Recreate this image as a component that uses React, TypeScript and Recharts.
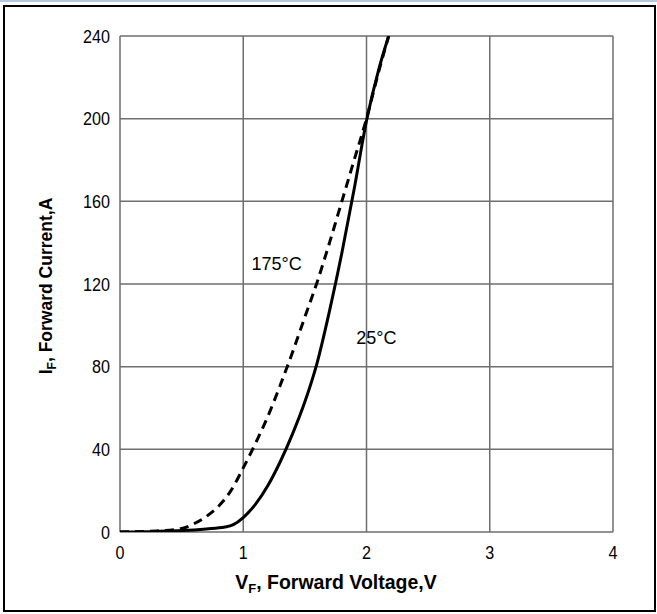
import { CartesianGrid, LineChart, Line, ReferenceDot, XAxis, YAxis } from 'recharts';

const X_TICKS = [0, 1, 2, 3, 4];
const Y_TICKS = [0, 40, 80, 120, 160, 200, 240];

// 25°C, solid
const curve25 = [
  { v: 0, i: 0 },
  { v: 0.3, i: 0.3 },
  { v: 0.5, i: 0.7 },
  { v: 0.7, i: 1.5 },
  { v: 0.85, i: 2.4 },
  { v: 0.92, i: 3.6 },
  { v: 1.0, i: 7 },
  { v: 1.1, i: 13.5 },
  { v: 1.2, i: 22.5 },
  { v: 1.3, i: 34 },
  { v: 1.4, i: 47.5 },
  { v: 1.5, i: 63 },
  { v: 1.6, i: 82 },
  { v: 1.7, i: 107 },
  { v: 1.8, i: 135 },
  { v: 1.9, i: 166 },
  { v: 2.0, i: 199 },
  { v: 2.1, i: 224 },
  { v: 2.18, i: 240 },
];

// 175°C, dashed
const curve175 = [
  { v: 0, i: 0 },
  { v: 0.3, i: 0.5 },
  { v: 0.5, i: 1.7 },
  { v: 0.6, i: 4 },
  { v: 0.7, i: 7.5 },
  { v: 0.8, i: 12.5 },
  { v: 0.9, i: 20 },
  { v: 1.0, i: 31 },
  { v: 1.1, i: 43 },
  { v: 1.2, i: 56 },
  { v: 1.3, i: 71 },
  { v: 1.4, i: 87 },
  { v: 1.5, i: 104 },
  { v: 1.6, i: 121 },
  { v: 1.7, i: 140 },
  { v: 1.8, i: 160 },
  { v: 1.9, i: 180 },
  { v: 2.0, i: 200 },
  { v: 2.1, i: 223 },
  { v: 2.18, i: 240 },
];

const FONT = '"Liberation Sans", Arial, sans-serif';

const XTick = ({ x, y, payload }: any) => (
  <text
    transform={`translate(${x},${y}) scale(0.85,1)`}
    textAnchor="middle"
    dy="0.71em"
    fontFamily={FONT}
    fontSize={19}
    fill="#000"
  >
    {payload.value}
  </text>
);

const YTick = ({ x, y, payload }: any) => (
  <text
    transform={`translate(${x},${y}) scale(0.85,1)`}
    textAnchor="end"
    dy="0.355em"
    fontFamily={FONT}
    fontSize={19}
    fill="#000"
  >
    {payload.value}
  </text>
);

const XTitle = () => (
  <text x={336} y={589} textAnchor="middle" fontFamily={FONT} fontWeight="bold" fontSize={19.5} fill="#000">
    V<tspan fontSize={13} dy={4}>F</tspan>
    <tspan dy={-4}>, Forward Voltage,V</tspan>
  </text>
);

const YTitle = () => (
  <text
    x={0}
    y={0}
    transform="translate(52,286) rotate(-90)"
    textAnchor="middle"
    fontFamily={FONT}
    fontWeight="bold"
    fontSize={17.5}
    fill="#000"
  >
    I<tspan fontSize={12} dy={4}>F</tspan>
    <tspan dy={-4}>, Forward Current,A</tspan>
  </text>
);

export default function App() {
  return (
    <div style={{ position: 'absolute', left: 0, top: 0, width: 657, height: 614, background: '#fff' }}>
      <div style={{ position: 'absolute', left: 0, top: 0, width: 657, height: 2, background: '#b4c7e7' }} />
      <div
        style={{
          position: 'absolute',
          left: 3,
          top: 5,
          width: 649,
          height: 603,
          border: '2px solid #000',
        }}
      />
      <div style={{ position: 'absolute', left: 0, top: 0 }}>
        <LineChart width={657} height={614} margin={{ top: 36, right: 44, bottom: 0, left: 0 }}>
          <CartesianGrid stroke="#6e6e6e" strokeWidth={1.5} />
          <XAxis
            dataKey="v"
            type="number"
            domain={[0, 4]}
            ticks={X_TICKS}
            allowDataOverflow
            axisLine={false}
            tickLine={false}
            tickSize={0}
            tickMargin={13}
            height={82}
            tick={<XTick />}
            label={{ content: () => <XTitle /> }}
          />
          <YAxis
            dataKey="i"
            type="number"
            domain={[0, 240]}
            ticks={Y_TICKS}
            allowDataOverflow
            axisLine={false}
            tickLine={false}
            tickSize={0}
            tickMargin={10}
            width={120}
            tick={<YTick />}
            label={{ content: () => <YTitle /> }}
          />
          <Line
            data={curve175}
            dataKey="i"
            type="monotone"
            stroke="#000"
            strokeWidth={3}
            strokeDasharray="9 6"
            dot={false}
            isAnimationActive={false}
          />
          <Line
            data={curve25}
            dataKey="i"
            type="monotone"
            stroke="#000"
            strokeWidth={3}
            dot={false}
            isAnimationActive={false}
          />
          <ReferenceDot
            x={1.27}
            y={130}
            r={0}
            label={{ value: '175°C', position: 'center', fontFamily: FONT, fontSize: 18, fill: '#000' }}
          />
          <ReferenceDot
            x={2.08}
            y={94}
            r={0}
            label={{ value: '25°C', position: 'center', fontFamily: FONT, fontSize: 18, fill: '#000' }}
          />
        </LineChart>
      </div>
    </div>
  );
}
